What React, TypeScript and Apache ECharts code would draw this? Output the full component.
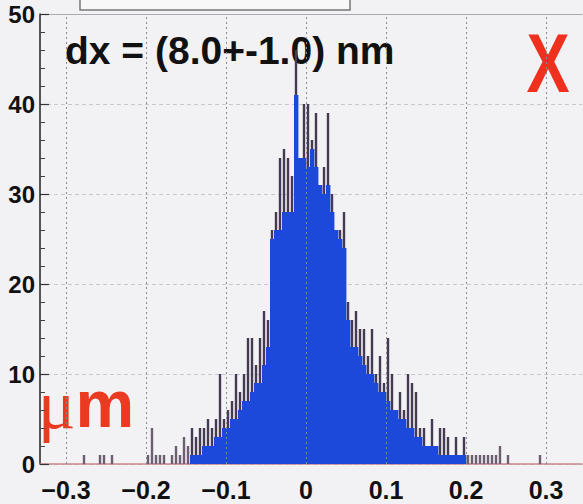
import React, { useEffect, useRef } from 'react';
import * as echarts from 'echarts';

// Histogram bins: left edge of first bin and width (x in µm)
const binWidth = 0.005;
const firstBinEdge = -0.28;

// Entries per bin (tops of the spikes), bins from -0.280 to 0.290
const counts = [
  1, 0, 0, 0, 1, 1, 0, 1, 0, 0,
  0, 0, 0, 0, 0, 0, 1, 4, 1, 1,
  1, 0, 1, 2, 1, 3, 2, 4, 3, 4,
  4, 5, 4, 5, 10, 5, 6, 7, 10, 8,
  10, 14, 14, 11, 14, 17, 16, 26, 28, 34,
  35, 34, 32, 46, 34, 40, 40, 36, 39, 31,
  33, 39, 30, 26, 26, 28, 18, 16, 17, 15,
  15, 12, 15, 10, 12, 9, 14, 10, 6, 8,
  6, 10, 9, 8, 4, 4, 2, 5, 2, 4,
  4, 3, 1, 3, 1, 3, 1, 1, 1, 1,
  1, 1, 1, 1, 2, 0, 1, 0, 0, 0,
  0, 0, 0, 0, 1,
];

// Blue filled body level per bin (same bins)
const coreCounts = [
  0, 0, 0, 0, 0, 0, 0, 0, 0, 0,
  0, 0, 0, 0, 0, 0, 0, 0, 0, 0,
  0, 0, 0, 0, 0, 0, 0, 1, 1, 1,
  2, 2, 2, 3, 3, 4, 4, 5, 5, 6,
  7, 7, 8, 9, 9, 11, 13, 25, 26, 26,
  28, 28, 28, 41, 34, 34, 33, 35, 33, 31,
  30, 31, 28, 26, 25, 24, 16, 13, 13, 12,
  11, 10, 10, 9, 8, 8, 7, 6, 6, 5,
  5, 4, 4, 3, 3, 2, 2, 2, 2, 1,
  1, 1, 1, 1, 1, 1, 0, 0, 0, 0,
  0, 0, 0, 0, 0, 0, 0, 0, 0, 0,
  0, 0, 0, 0, 0,
];

const xTickValues = [-0.3, -0.2, -0.1, 0, 0.1, 0.2, 0.3];
const titleText = 'dx = (8.0+-1.0) nm';
const axisTag = 'X';
const unitMu = 'μ';
const unitM = 'm';

export default function App() {
  const ref = useRef<HTMLDivElement>(null);

  useEffect(() => {
    document.body.style.margin = '0';
    const chart = echarts.init(ref.current!, null, { renderer: 'svg' });

    const data = counts.map((c, i) => {
      const x0 = +(firstBinEdge + i * binWidth).toFixed(4);
      return [x0, +(x0 + binWidth).toFixed(4), coreCounts[i], c];
    });

    const xMin = -0.3325;
    const xMax = 0.345;

    chart.setOption({
      animation: false,
      backgroundColor: '#f2f2f5',
      grid: { left: 40, top: 14, width: 542, height: 450 },
      xAxis: [
        {
          type: 'value',
          min: xMin,
          max: xMax,
          axisLine: { show: true, onZero: false, lineStyle: { color: '#c98590', width: 1.5 } },
          axisTick: { show: false, customValues: xTickValues },
          splitLine: { show: false },
          axisLabel: {
            customValues: xTickValues,
            margin: 13,
            fontSize: 25,
            fontWeight: 'bold',
            fontFamily: '"Liberation Sans", Arial, sans-serif',
            color: '#111',
            formatter: (v: number) => {
              const s = Math.abs(v) < 1e-9 ? '0' : String(+v.toFixed(1));
              return s.replace('-', '\u2212');
            },
          },
        },
        {
          type: 'value',
          position: 'top',
          min: xMin,
          max: xMax,
          axisLine: { show: true, onZero: false, lineStyle: { color: '#a9a9b0', width: 1.2 } },
          axisTick: { show: false },
          axisLabel: { show: false },
          splitLine: { show: false },
        },
      ],
      yAxis: {
        type: 'value',
        min: 0,
        max: 50,
        interval: 10,
        axisLine: { show: true, onZero: false, lineStyle: { color: '#222', width: 1.5 } },
        axisTick: { show: true, inside: true, length: 9, lineStyle: { color: '#333', width: 1.2 } },
        minorTick: { show: true, splitNumber: 5, length: 5, lineStyle: { color: '#444', width: 1 } },
        splitLine: { show: true, lineStyle: { color: '#c8c8d0', type: [4, 3], width: 1 } },
        axisLabel: {
          margin: 5,
          fontSize: 24,
          fontWeight: 'bold',
          fontFamily: '"Liberation Sans", Arial, sans-serif',
          color: '#111',
        },
      },
      series: [
        {
          type: 'custom',
          xAxisIndex: 0,
          yAxisIndex: 0,
          encode: { x: [0, 1], y: [2, 3] },
          data,
          renderItem: (params: any, api: any) => {
            const x0 = api.value(0) as number;
            const x1 = api.value(1) as number;
            const core = api.value(2) as number;
            const cnt = api.value(3) as number;
            const base = api.coord([x0, 0]);
            const right = api.coord([x1, core]);
            const top = api.coord([x0, cnt]);
            const children: any[] = [];
            if (core > 0) {
              children.push({
                type: 'rect',
                shape: { x: base[0], y: right[1], width: right[0] - base[0] + 0.4, height: base[1] - right[1] },
                style: { fill: '#1d49da' },
              });
            }
            if (cnt > core) {
              const cx = (base[0] + right[0]) / 2;
              children.push({
                type: 'rect',
                shape: { x: cx - 1.2, y: top[1], width: 2.4, height: right[1] - top[1] },
                style: { fill: core > 0 ? '#463a52' : '#6e5f70' },
              });
            }
            return { type: 'group', children };
          },
          markLine: {
            silent: true,
            symbol: 'none',
            label: { show: false },
            lineStyle: { color: '#8a8a92', type: [2, 3], width: 1 },
            data: xTickValues.map((v) => ({ xAxis: v })),
          },
        },
      ],
      graphic: [
        {
          type: 'rect',
          shape: { x: 80, y: -20, width: 270, height: 30 },
          style: { fill: '#f8f8f8', stroke: '#777', lineWidth: 1.5 },
        },
        {
          type: 'text',
          x: 65,
          y: 50,
          style: {
            text: titleText,
            font: 'bold 39px "Liberation Sans", Arial, sans-serif',
            fill: '#111',
            align: 'left',
            verticalAlign: 'middle',
          },
        },
        {
          type: 'text',
          x: 548,
          y: 63,
          scaleX: 0.77,
          style: {
            text: axisTag,
            font: 'bold 84px "Liberation Sans", Arial, sans-serif',
            fill: '#f0301e',
            align: 'center',
            verticalAlign: 'middle',
          },
        },
        {
          type: 'text',
          x: 38,
          y: 404,
          style: {
            text: '{a|' + unitMu + '}{b|' + unitM + '}',
            align: 'left',
            verticalAlign: 'middle',
            rich: {
              a: { font: '70px "Liberation Serif", serif', fill: '#ea3a22' },
              b: { font: 'bold 66px "Liberation Sans", Arial, sans-serif', fill: '#ea3a22' },
            },
          },
        },
      ],
    });

    return () => chart.dispose();
  }, []);

  return <div ref={ref} style={{ width: 583, height: 504 }} />;
}
